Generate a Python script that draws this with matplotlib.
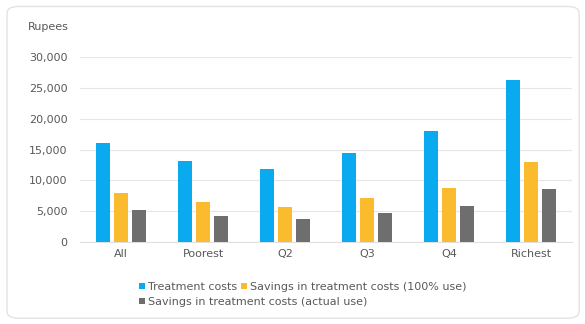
import matplotlib
matplotlib.use("Agg")
import matplotlib.pyplot as plt
from matplotlib.patches import FancyBboxPatch
import numpy as np

# quintile groups
groups = ["All", "Poorest", "Q2", "Q3", "Q4", "Richest"]

# rupees per group
treatment = [16000, 13100, 11800, 14400, 18000, 26300]
saving_full = [7950, 6500, 5700, 7100, 8800, 13000]
saving_actual = [5200, 4200, 3700, 4700, 5800, 8600]

names = ["Treatment costs", "Savings in treatment costs (100% use)",
         "Savings in treatment costs (actual use)"]
colors = ["#0AAAF0", "#FBBB2E", "#6E6E6E"]

#_____________________________________________________________________________
def main():

    plt.rcParams["font.family"] = "DejaVu Sans"

    fig = plt.figure(figsize=(5.85, 3.24), dpi=100)

    #card frame, behind everything
    card = FancyBboxPatch((0.012, 0.018), 0.978, 0.962, boxstyle="round,pad=0,rounding_size=0.02",
                          transform=fig.transFigure, facecolor="white", edgecolor="#E3E3E3",
                          lw=1.0, zorder=-10)
    fig.patches.append(card)

    ax = fig.add_axes([0.137, 0.253, 0.841, 0.571])
    ax.set_facecolor("none")

    x = np.arange(len(groups))
    w = 0.17
    step = 0.22
    bars = []
    for i, vals in enumerate([treatment, saving_full, saving_actual]):
        b = ax.bar(x + (i - 1)*step, vals, w, color=colors[i], label=names[i], zorder=3)
        bars.append(b)

    ax.set_xlim(-0.5, len(groups) - 0.5)
    ax.set_ylim(0, 30000)
    ax.set_yticks(np.arange(0, 30001, 5000))
    ax.set_yticklabels(["{:,}".format(v) for v in range(0, 30001, 5000)])
    ax.set_xticks(x)
    ax.set_xticklabels(groups)

    ax.grid(axis="y", color="#E6E6E6", lw=0.8, zorder=0)
    for s in ["top", "right", "left"]:
        ax.spines[s].set_visible(False)
    ax.spines["bottom"].set_color("#E0E0E0")
    ax.tick_params(axis="both", length=0, labelsize=8, colors="#595959")
    ax.tick_params(axis="y", pad=9)
    ax.tick_params(axis="x", pad=5)

    fig.text(0.048, 0.917, "Rupees", fontsize=8, color="#595959", va="center")

    #legend wraps like flowing text: two items on the first row, one on the second
    kw = dict(frameon=False, fontsize=8, handlelength=0.55, handleheight=0.55,
              handletextpad=0.25, columnspacing=0.4, borderaxespad=0, borderpad=0)
    leg1 = fig.legend(bars[:2], names[:2], loc="center left",
                      bbox_to_anchor=(0.237, 0.114), ncol=2, **kw)
    leg2 = fig.legend(bars[2:], names[2:], loc="center left",
                      bbox_to_anchor=(0.237, 0.068), ncol=1, **kw)
    for leg in [leg1, leg2]:
        for t in leg.get_texts():
            t.set_color("#595959")

    fig.savefig("out.png", dpi=100)
    plt.close()

#main

#_____________________________________________________________________________
if __name__ == "__main__":

    main()
